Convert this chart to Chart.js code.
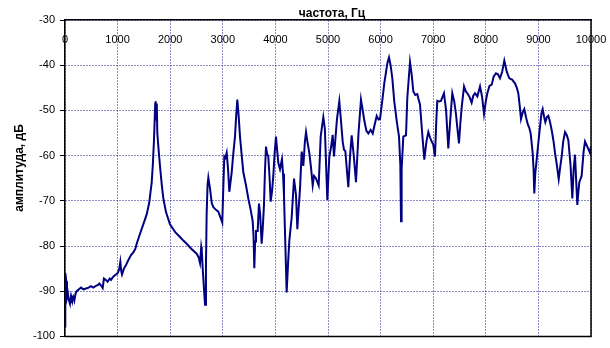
<!DOCTYPE html>
<html>
<head>
<meta charset="utf-8">
<script src="https://cdn.jsdelivr.net/npm/chart.js@4.4.1/dist/chart.umd.min.js"></script>
<style>
  html, body { margin: 0; padding: 0; background: #fff; }
  #wrap { width: 610px; height: 348px; }
</style>
</head>
<body>
<div id="wrap"><canvas id="spectrum" width="610" height="348"></canvas></div>
<script>
// частота, Гц
const freq = [
  0, 6, 25, 38, 55, 70, 95, 115, 133, 155, 177, 200, 222, 260, 304, 350, 399, 450, 494, 540,
  589, 630, 653, 690, 716, 740, 767, 811, 850, 875, 910, 938, 970, 1001, 1030, 1052, 1070, 1084, 1120, 1160,
  1210, 1255, 1300, 1338, 1363, 1420, 1480, 1553, 1600, 1648, 1670, 1692, 1705, 1715, 1724, 1735, 1745, 1755, 1780, 1806,
  1840, 1869, 1920, 1996, 2100, 2186, 2250, 2313, 2400, 2503, 2540, 2567, 2590, 2600, 2620, 2640, 2662, 2680, 2693, 2710,
  2725, 2757, 2790, 2820, 2870, 2915, 2950, 2990, 3010, 3029, 3050, 3074, 3100, 3124, 3169, 3200, 3232, 3255, 3276, 3300,
  3327, 3360, 3390, 3440, 3485, 3530, 3568, 3585, 3599, 3615, 3631, 3663, 3688, 3710, 3739, 3760, 3783, 3800, 3821, 3840,
  3865, 3890, 3910, 3935, 3960, 3985, 4011, 4035, 4055, 4087, 4125, 4145, 4163, 4190, 4214, 4240, 4265, 4309, 4354, 4392,
  4417, 4440, 4468, 4500, 4531, 4560, 4582, 4610, 4645, 4680, 4709, 4734, 4770, 4823, 4861, 4911, 4940, 4987, 5025, 5060,
  5089, 5114, 5170, 5215, 5241, 5280, 5304, 5330, 5386, 5420, 5450, 5490, 5532, 5580, 5627, 5660, 5691, 5730, 5767, 5810,
  5850, 5890, 5926, 5960, 5989, 6039, 6070, 6103, 6130, 6160, 6190, 6223, 6260, 6306, 6350, 6375, 6388, 6400, 6432, 6483,
  6508, 6535, 6559, 6590, 6622, 6660, 6698, 6720, 6749, 6790, 6831, 6870, 6907, 6940, 6971, 7000, 7034, 7060, 7078, 7110,
  7148, 7205, 7245, 7287, 7325, 7363, 7400, 7433, 7460, 7490, 7515, 7541, 7586, 7620, 7649, 7690, 7731, 7760, 7795, 7839,
  7890, 7930, 7966, 8000, 8029, 8070, 8112, 8150, 8194, 8230, 8270, 8310, 8352, 8400, 8447, 8500, 8555, 8590, 8618, 8645,
  8669, 8700, 8732, 8765, 8796, 8830, 8853, 8891, 8908, 8922, 8940, 8967, 9000, 9030, 9060, 9081, 9110, 9132, 9160, 9189,
  9220, 9253, 9290, 9316, 9350, 9386, 9415, 9443, 9470, 9506, 9540, 9569, 9610, 9645, 9670, 9696, 9720, 9740, 9760, 9778,
  9822, 9860, 9886, 9930, 9981, 10000
];

// амплитуда, дБ
const amp = [
  -97.8, -86, -87.8, -91.4, -90.5, -91.8, -92.8, -91, -91.8, -91.2, -92.1, -90.6, -90, -89.6, -89.2, -89.6, -89.4, -89.2, -88.9, -89.2,
  -88.8, -88.6, -88.3, -88.8, -89.3, -87.2, -87.4, -87.9, -87.2, -87.5, -86.9, -86.6, -86.3, -86, -85.2, -83.5, -85.6, -86.3, -85, -84.2,
  -83, -82, -81.4, -80.6, -79.5, -77.5, -75.5, -73, -70.5, -66, -62, -56.5, -52, -48.5, -48, -52, -48.5, -55, -58.8, -62.3,
  -66.5, -69.4, -72.5, -75.2, -77, -78, -78.8, -79.5, -80.6, -81.7, -82.5, -83.8, -80.2, -81, -85.4, -89, -93, -84, -73, -66.5,
  -64.9, -67.3, -70.5, -71.4, -72, -72.4, -73.5, -74.8, -67, -60.2, -60.5, -59.4, -63, -68, -63.7, -59.5, -55.8, -51, -47.6, -51,
  -55.8, -60, -63.7, -66.5, -69.5, -72, -74.5, -78, -84.9, -79, -76.7, -76.7, -70.6, -73, -79.5, -76, -70.9, -64, -58, -59.5,
  -60.2, -65, -70.2, -68, -64.5, -59.5, -55.8, -59, -61.6, -63, -60.8, -64, -68.8, -80, -90.3, -84, -78.8, -73.7, -65.1, -68.8,
  -76.3, -72, -67.3, -59.1, -62.3, -57, -54.8, -57, -59.4, -63, -66.6, -64.5, -65, -66.6, -55.8, -51.5, -54, -69.8, -60.2, -58,
  -55.4, -60.2, -52, -48, -51.5, -57, -58.7, -59, -67, -60, -55.5, -60, -65.9, -55, -47.6, -50, -52.3, -54.5, -55.1, -54.3,
  -55.1, -53, -51.2, -52, -51.9, -47.2, -44, -41.5, -39.5, -38.3, -40, -42.9, -48, -52.3, -55.8, -62, -74.5, -63, -55.8, -55.5,
  -47.2, -43, -39.3, -42, -45.8, -46.6, -46.4, -47.5, -48.7, -55, -60.9, -57, -54.8, -56, -56.9, -57.5, -60.2, -52, -47.9, -48,
  -47.9, -46.2, -50, -58.4, -52, -46.2, -48, -50.8, -54, -57.3, -53, -49.4, -44.7, -45.8, -46.2, -47, -48.3, -46.8, -46.2, -46.9,
  -44.7, -47, -50.8, -48, -46.2, -44.6, -44.3, -42.5, -41.8, -42, -42.9, -41.5, -39, -41.5, -42.9, -43.2, -44, -45, -46.2, -49,
  -51.9, -50.5, -49.7, -51.5, -53, -54, -55.1, -59.4, -63, -68.4, -64, -60.9, -57, -53.7, -50.5, -49.7, -51.5, -52.6, -51.5, -51.2,
  -52.5, -54.4, -57, -59.4, -62, -65.2, -62.5, -60.2, -57, -54.8, -55.5, -56.6, -62, -69.5, -63, -59.8, -66, -70.9, -68, -65.9,
  -64.5, -59, -56.9, -58, -59.4, -58
];

const xTicks = [0, 1000, 2000, 3000, 4000, 5000, 6000, 7000, 8000, 9000, 10000];
const yTicks = [-30, -40, -50, -60, -70, -80, -90, -100];

const xTitle = 'частота, Гц';
const yTitle = 'амплитуда, дБ';

const FONT = 'Arial, "Liberation Sans", sans-serif';

// labels of the top axis sit inside the plot, plus both titles and the frame
const decor = {
  id: 'decor',
  afterDraw(chart) {
    const { ctx, chartArea: a } = chart;
    const xs = chart.scales.x;
    ctx.save();
    ctx.strokeStyle = '#000';
    ctx.lineWidth = 1.5;
    ctx.beginPath();
    ctx.moveTo(a.left, a.bottom);
    ctx.lineTo(a.right, a.bottom);
    ctx.lineTo(a.right, a.top);
    ctx.stroke();

    ctx.fillStyle = '#000';
    ctx.font = '11px ' + FONT;
    ctx.textAlign = 'center';
    ctx.textBaseline = 'middle';
    xTicks.forEach(v => ctx.fillText(String(v), xs.getPixelForValue(v), a.top + 20));

    ctx.font = 'bold 12px ' + FONT;
    ctx.fillText(xTitle, (a.left + a.right) / 2 + 4, 14);

    ctx.translate(20, 168);
    ctx.rotate(-Math.PI / 2);
    ctx.fillText(yTitle, 0, 0);
    ctx.restore();
  }
};

new Chart(document.getElementById('spectrum'), {
  type: 'line',
  data: {
    datasets: [{
      data: freq.map((f, i) => ({ x: f, y: amp[i] })),
      borderColor: '#000080',
      borderWidth: 2,
      pointRadius: 0,
      tension: 0,
      fill: false
    }]
  },
  options: {
    responsive: false,
    animation: false,
    layout: { padding: { top: 0, right: 19, bottom: 3, left: 0 } },
    plugins: { legend: { display: false }, tooltip: { enabled: false } },
    scales: {
      x: {
        type: 'linear',
        position: 'top',
        min: 0,
        max: 10000,
        afterBuildTicks: s => { s.ticks = xTicks.map(v => ({ value: v })); },
        afterFit: s => { s.height = 20; },
        ticks: { display: false },
        grid: { color: '#1a1a8c', lineWidth: 1, drawTicks: false },
        border: { color: '#000', width: 1.5, dash: [1, 2] }
      },
      y: {
        min: -100,
        max: -30,
        afterBuildTicks: s => { s.ticks = yTicks.map(v => ({ value: v })); },
        afterFit: s => { s.width = 65; },
        ticks: { color: '#000', font: { family: FONT, size: 11 }, padding: 5 },
        grid: { color: '#1a1a8c', lineWidth: 1, tickLength: 5, tickColor: '#000', tickBorderDash: [] },
        border: { color: '#000', width: 1.5, dash: [1, 2] }
      }
    }
  },
  plugins: [decor]
});
</script>
</body>
</html>
